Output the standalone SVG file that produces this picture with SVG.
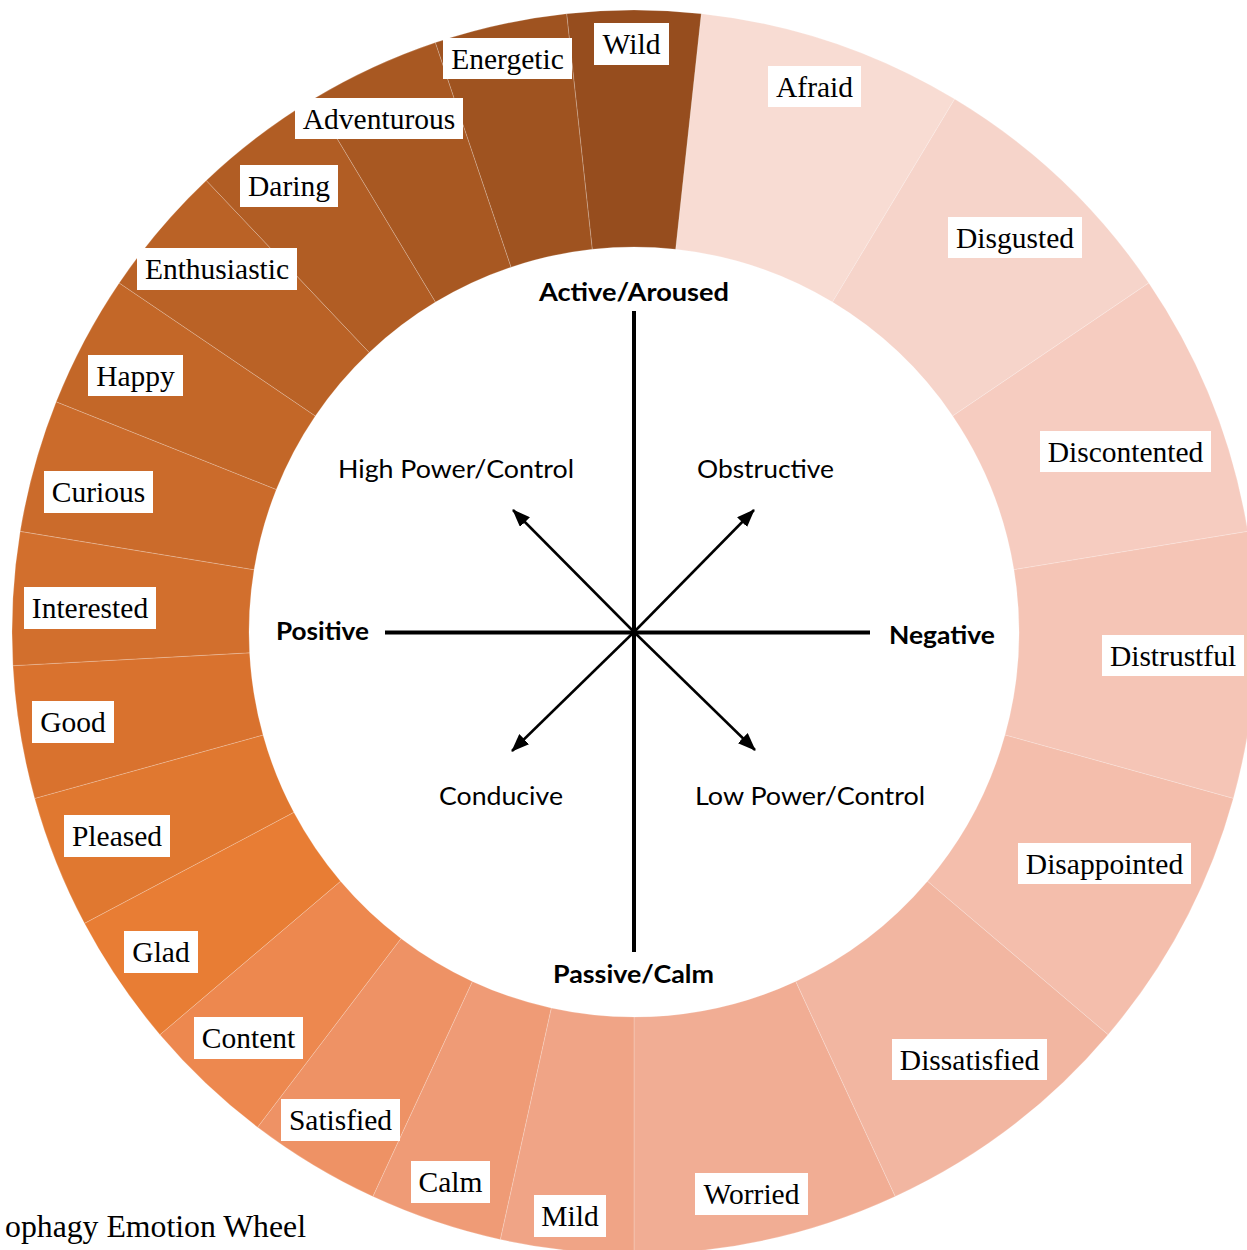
<svg xmlns="http://www.w3.org/2000/svg" width="1247" height="1250" viewBox="0 0 1247 1250">
<style>
.seg{stroke:#ffffff;stroke-opacity:0.3;stroke-width:0.7}
.lb{fill:#ffffff}
.lt{font-family:"Liberation Serif","Times New Roman",serif;font-size:29.5px;fill:#000000;text-anchor:middle}
.ct{font-family:Lato,"Open Sans",sans-serif;font-size:25.5px;fill:#000000}
.cb{font-family:Lato,"Open Sans",sans-serif;font-size:25.5px;font-weight:bold;fill:#000000}
.axis{stroke:#000000;stroke-width:4;fill:none}
.diag{stroke:#000000;stroke-width:2.5;fill:none;marker-end:url(#ah)}
.title{font-family:"Liberation Serif","Times New Roman",serif;font-size:31px;fill:#000000}
</style>
<defs>
<marker id="ah" markerUnits="userSpaceOnUse" markerWidth="18" markerHeight="14" refX="17" refY="7" orient="auto">
<path d="M0,0 L18,7 L0,14 Z" fill="#000000"/>
</marker>
</defs>
<rect width="1247" height="1250" fill="#ffffff"/>
<g id="ring">
<path id="seg-afraid" class="seg" fill="#F8DCD3" d="M701.25,13.64 A622,622 0 0 1 954.68,99.03 L832.49,302.11 A385,385 0 0 0 675.63,249.26 Z"/>
<path id="seg-disgusted" class="seg" fill="#F6D4CA" d="M954.68,99.03 A622,622 0 0 1 1148.82,282.94 L952.66,415.94 A385,385 0 0 0 832.49,302.11 Z"/>
<path id="seg-discontented" class="seg" fill="#F6CCC0" d="M1148.82,282.94 A622,622 0 0 1 1247.81,531.37 L1013.93,569.71 A385,385 0 0 0 952.66,415.94 Z"/>
<path id="seg-distrustful" class="seg" fill="#F5C5B6" d="M1247.81,531.37 A622,622 0 0 1 1233.33,798.40 L1004.97,735.00 A385,385 0 0 0 1013.93,569.71 Z"/>
<path id="seg-disappointed" class="seg" fill="#F4BEAC" d="M1233.33,798.40 A622,622 0 0 1 1108.07,1034.68 L927.44,881.25 A385,385 0 0 0 1004.97,735.00 Z"/>
<path id="seg-dissatisfied" class="seg" fill="#F2B6A1" d="M1108.07,1034.68 A622,622 0 0 1 895.17,1196.51 L795.66,981.42 A385,385 0 0 0 927.44,881.25 Z"/>
<path id="seg-worried" class="seg" fill="#F1AD94" d="M895.17,1196.51 A622,622 0 0 1 634,1254 L634,1017 A385,385 0 0 0 795.66,981.42 Z"/>
<path id="seg-mild" class="seg" fill="#F0A486" d="M634,1254 A622,622 0 0 1 500.29,1239.48 L551.24,1008.01 A385,385 0 0 0 634,1017 Z"/>
<path id="seg-calm" class="seg" fill="#EF9B76" d="M500.29,1239.48 A622,622 0 0 1 372.83,1196.51 L472.34,981.42 A385,385 0 0 0 551.24,1008.01 Z"/>
<path id="seg-satisfied" class="seg" fill="#EE9265" d="M372.83,1196.51 A622,622 0 0 1 257.58,1127.17 L401.01,938.50 A385,385 0 0 0 472.34,981.42 Z"/>
<path id="seg-content" class="seg" fill="#ED884F" d="M257.58,1127.17 A622,622 0 0 1 159.93,1034.68 L340.56,881.25 A385,385 0 0 0 401.01,938.50 Z"/>
<path id="seg-glad" class="seg" fill="#E87D34" d="M159.93,1034.68 A622,622 0 0 1 84.45,923.35 L293.84,812.34 A385,385 0 0 0 340.56,881.25 Z"/>
<path id="seg-pleased" class="seg" fill="#E07830" d="M84.45,923.35 A622,622 0 0 1 34.67,798.40 L263.03,735.00 A385,385 0 0 0 293.84,812.34 Z"/>
<path id="seg-good" class="seg" fill="#D9722E" d="M34.67,798.40 A622,622 0 0 1 12.91,665.68 L249.57,652.84 A385,385 0 0 0 263.03,735.00 Z"/>
<path id="seg-interested" class="seg" fill="#D26F2D" d="M12.91,665.68 A622,622 0 0 1 20.19,531.37 L254.07,569.71 A385,385 0 0 0 249.57,652.84 Z"/>
<path id="seg-curious" class="seg" fill="#CB6B2B" d="M20.19,531.37 A622,622 0 0 1 56.17,401.77 L276.34,489.50 A385,385 0 0 0 254.07,569.71 Z"/>
<path id="seg-happy" class="seg" fill="#C36728" d="M56.17,401.77 A622,622 0 0 1 119.18,282.94 L315.34,415.94 A385,385 0 0 0 276.34,489.50 Z"/>
<path id="seg-enthusiastic" class="seg" fill="#BA6226" d="M119.18,282.94 A622,622 0 0 1 206.25,180.43 L369.24,352.49 A385,385 0 0 0 315.34,415.94 Z"/>
<path id="seg-daring" class="seg" fill="#B15D24" d="M206.25,180.43 A622,622 0 0 1 313.32,99.03 L435.51,302.11 A385,385 0 0 0 369.24,352.49 Z"/>
<path id="seg-adventurous" class="seg" fill="#A85822" d="M313.32,99.03 A622,622 0 0 1 435.40,42.56 L511.07,267.15 A385,385 0 0 0 435.51,302.11 Z"/>
<path id="seg-energetic" class="seg" fill="#9F5320" d="M435.40,42.56 A622,622 0 0 1 566.75,13.64 L592.37,249.26 A385,385 0 0 0 511.07,267.15 Z"/>
<path id="seg-wild" class="seg" fill="#964D1E" d="M566.75,13.64 A622,622 0 0 1 701.25,13.64 L675.63,249.26 A385,385 0 0 0 592.37,249.26 Z"/>
</g>
<g id="connectors">
<line class="axis" x1="634" y1="311" x2="634" y2="952"/>
<line class="axis" x1="385" y1="632.5" x2="870" y2="632.5"/>
<line class="diag" x1="634" y1="632" x2="513" y2="510"/>
<line class="diag" x1="634" y1="632" x2="754" y2="510"/>
<line class="diag" x1="634" y1="632" x2="512" y2="751"/>
<line class="diag" x1="634" y1="632" x2="755" y2="750"/>
</g>
<g id="axis-labels">
<text id="t-active" class="cb" x="539" y="301" textLength="190" lengthAdjust="spacingAndGlyphs">Active/Aroused</text>
<text id="t-high" class="ct" x="338" y="478" textLength="236" lengthAdjust="spacingAndGlyphs">High Power/Control</text>
<text id="t-obstructive" class="ct" x="697" y="478" textLength="137" lengthAdjust="spacingAndGlyphs">Obstructive</text>
<text id="t-positive" class="cb" x="276" y="640" textLength="93" lengthAdjust="spacingAndGlyphs">Positive</text>
<text id="t-negative" class="cb" x="889" y="643.5" textLength="106" lengthAdjust="spacingAndGlyphs">Negative</text>
<text id="t-conducive" class="ct" x="439" y="805" textLength="124" lengthAdjust="spacingAndGlyphs">Conducive</text>
<text id="t-low" class="ct" x="695" y="805" textLength="230" lengthAdjust="spacingAndGlyphs">Low Power/Control</text>
<text id="t-passive" class="cb" x="553" y="983" textLength="161" lengthAdjust="spacingAndGlyphs">Passive/Calm</text>
</g>
<g id="n-wild"><rect class="lb" x="594" y="23" width="75" height="42"/><text class="lt" x="631.5" y="54">Wild</text></g>
<g id="n-energetic"><rect class="lb" x="443" y="38" width="129" height="41"/><text class="lt" x="507.5" y="69">Energetic</text></g>
<g id="n-afraid"><rect class="lb" x="768" y="66" width="93" height="41"/><text class="lt" x="814.5" y="97">Afraid</text></g>
<g id="n-adventurous"><rect class="lb" x="295" y="98" width="168" height="41"/><text class="lt" x="379" y="129">Adventurous</text></g>
<g id="n-daring"><rect class="lb" x="240" y="165" width="98" height="42"/><text class="lt" x="289" y="196">Daring</text></g>
<g id="n-enthusiastic"><rect class="lb" x="137" y="248" width="160" height="42"/><text class="lt" x="217" y="279">Enthusiastic</text></g>
<g id="n-happy"><rect class="lb" x="88" y="355" width="95" height="41"/><text class="lt" x="135.5" y="386">Happy</text></g>
<g id="n-curious"><rect class="lb" x="44" y="471" width="109" height="42"/><text class="lt" x="98.5" y="502">Curious</text></g>
<g id="n-interested"><rect class="lb" x="24" y="587" width="132" height="42"/><text class="lt" x="90" y="618">Interested</text></g>
<g id="n-good"><rect class="lb" x="32" y="701" width="82" height="42"/><text class="lt" x="73" y="732">Good</text></g>
<g id="n-pleased"><rect class="lb" x="64" y="815" width="106" height="42"/><text class="lt" x="117" y="846">Pleased</text></g>
<g id="n-glad"><rect class="lb" x="124" y="931" width="74" height="42"/><text class="lt" x="161" y="962">Glad</text></g>
<g id="n-content"><rect class="lb" x="194" y="1017" width="109" height="42"/><text class="lt" x="248.5" y="1048">Content</text></g>
<g id="n-satisfied"><rect class="lb" x="281" y="1099" width="119" height="42"/><text class="lt" x="340.5" y="1130">Satisfied</text></g>
<g id="n-calm"><rect class="lb" x="411" y="1161" width="79" height="42"/><text class="lt" x="450.5" y="1192">Calm</text></g>
<g id="n-mild"><rect class="lb" x="534" y="1195" width="72" height="42"/><text class="lt" x="570" y="1226">Mild</text></g>
<g id="n-worried"><rect class="lb" x="695" y="1173" width="113" height="42"/><text class="lt" x="751.5" y="1204">Worried</text></g>
<g id="n-dissatisfied"><rect class="lb" x="892" y="1039" width="155" height="41"/><text class="lt" x="969.5" y="1070">Dissatisfied</text></g>
<g id="n-disappointed"><rect class="lb" x="1018" y="843" width="173" height="41"/><text class="lt" x="1104.5" y="874">Disappointed</text></g>
<g id="n-distrustful"><rect class="lb" x="1102" y="635" width="142" height="41"/><text class="lt" x="1173" y="666">Distrustful</text></g>
<g id="n-discontented"><rect class="lb" x="1040" y="431" width="171" height="41"/><text class="lt" x="1125.5" y="462">Discontented</text></g>
<g id="n-disgusted"><rect class="lb" x="948" y="217" width="134" height="41"/><text class="lt" x="1015" y="248">Disgusted</text></g>
<text id="title" class="title" x="5" y="1237" textLength="301" lengthAdjust="spacingAndGlyphs">ophagy Emotion Wheel</text>
</svg>
